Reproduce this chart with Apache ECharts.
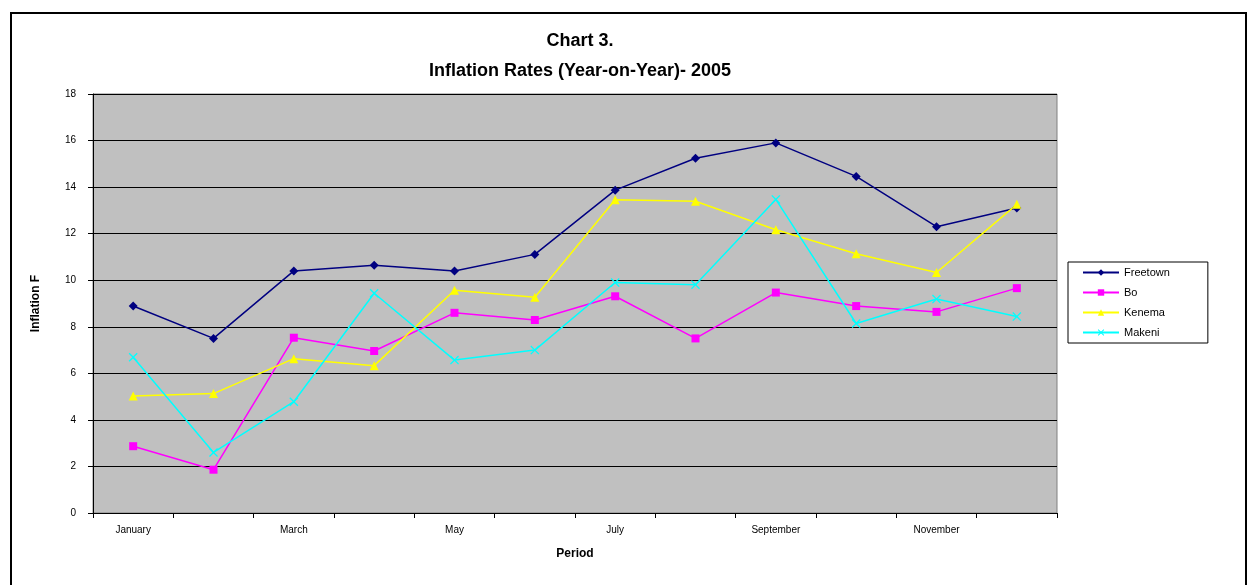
<!DOCTYPE html>
<html>
<head>
<meta charset="utf-8">
<script src="https://cdn.jsdelivr.net/npm/echarts@6/dist/echarts.min.js"></script>
<style>
  html, body { margin: 0; padding: 0; background: #ffffff; }
  #chart { width: 1248px; height: 585px; }
</style>
</head>
<body>
<div id="chart"></div>
<script>
const categories = ['January','February','March','April','May','June','July','August','September','October','November','December'];
const freetown = [8.89, 7.50, 10.40, 10.64, 10.40, 11.11, 13.87, 15.24, 15.90, 14.46, 12.30, 13.10];
const bo       = [2.87, 1.86, 7.53, 6.96, 8.60, 8.29, 9.31, 7.50, 9.47, 8.89, 8.64, 9.66];
const kenema   = [5.03, 5.13, 6.63, 6.33, 9.57, 9.27, 13.46, 13.39, 12.17, 11.14, 10.33, 13.26];
const makeni   = [6.69, 2.60, 4.78, 9.44, 6.57, 7.00, 9.90, 9.81, 13.47, 8.14, 9.19, 8.44];
const titleLines = ['Chart 3.', 'Inflation Rates (Year-on-Year)- 2005'];
const xAxisTitle = 'Period';
const yAxisTitle = 'Inflation F';

const FONT = '"Liberation Sans", Arial, sans-serif';
const crossPath = 'path://M0,1L1,0L5,4L9,0L10,1L6,5L10,9L9,10L5,6L1,10L0,9L4,5Z';

function mkSeries(name, data, color, symbol, size) {
  return {
    name: name,
    type: 'line',
    data: data,
    symbol: symbol,
    symbolSize: size,
    showAllSymbol: true,
    lineStyle: { color: color, width: 1.5 },
    itemStyle: { color: color },
    emphasis: { disabled: true },
    animation: false
  };
}

const chart = echarts.init(document.getElementById('chart'), null, { renderer: 'canvas' });
chart.setOption({
  animation: false,
  backgroundColor: '#ffffff',
  graphic: [{
    type: 'rect',
    shape: { x: 11, y: 13, width: 1235, height: 600 },
    style: { fill: 'none', stroke: '#000000', lineWidth: 2 },
    silent: true
  }],
  title: {
    text: titleLines[0] + '\n' + titleLines[1],
    left: 575,
    top: 21,
    textAlign: 'center',
    textStyle: { fontFamily: FONT, fontSize: 18, fontWeight: 'bold', color: '#000', lineHeight: 30 }
  },
  legend: {
    orient: 'vertical',
    left: 1068,
    top: 262,
    padding: [5, 38, 5, 14],
    backgroundColor: '#ffffff',
    borderColor: '#000000',
    borderWidth: 1,
    itemWidth: 36,
    itemHeight: 8,
    itemGap: 9,
    textStyle: { fontFamily: FONT, fontSize: 11, color: '#000' },
    data: ['Freetown', 'Bo', 'Kenema', 'Makeni']
  },
  grid: { left: 93, right: 191, top: 94, bottom: 72, show: true, backgroundColor: '#C0C0C0', borderColor: '#808080', borderWidth: 1 },
  xAxis: {
    type: 'category',
    data: categories,
    boundaryGap: true,
    name: xAxisTitle,
    nameLocation: 'middle',
    nameGap: 35,
    nameTextStyle: { fontFamily: FONT, fontSize: 12, fontWeight: 'bold', color: '#000' },
    axisLine: { show: true, lineStyle: { color: '#000', width: 1 } },
    axisTick: { show: true, interval: 0, length: 5, lineStyle: { color: '#000' } },
    axisLabel: { interval: 1, fontFamily: FONT, fontSize: 10, color: '#000', margin: 12 },
    splitLine: { show: false }
  },
  yAxis: {
    type: 'value',
    min: 0,
    max: 18,
    interval: 2,
    name: yAxisTitle,
    nameLocation: 'middle',
    nameGap: 51,
    nameRotate: 90,
    nameTextStyle: { fontFamily: FONT, fontSize: 12, fontWeight: 'bold', color: '#000' },
    axisLine: { show: true, lineStyle: { color: '#000', width: 1 } },
    axisTick: { show: true, length: 5, lineStyle: { color: '#000' } },
    axisLabel: { fontFamily: FONT, fontSize: 10, color: '#000', margin: 17 },
    splitLine: { show: true, lineStyle: { color: '#000', width: 1 } }
  },
  series: [
    mkSeries('Freetown', freetown, '#000080', 'diamond', 9),
    mkSeries('Bo', bo, '#FF00FF', 'rect', 8),
    mkSeries('Kenema', kenema, '#FFFF00', 'triangle', 9),
    mkSeries('Makeni', makeni, '#00FFFF', crossPath, 9)
  ]
});
</script>
</body>
</html>
